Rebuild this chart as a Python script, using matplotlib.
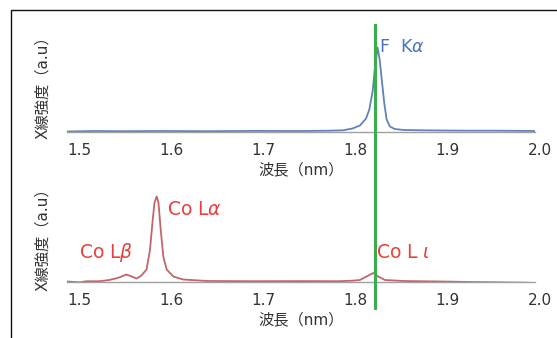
import matplotlib.pyplot as plt
import matplotlib.transforms as mtransforms
from matplotlib.patches import Rectangle

plt.rcParams['font.family'] = ['DejaVu Sans', 'Noto Sans CJK JP']
plt.rcParams['mathtext.fontset'] = 'dejavusans'

# F K-alpha spectrum (upper panel), wavelength in nm, intensity in a.u.
top_wl = [1.500, 1.530, 1.560, 1.600, 1.650, 1.700, 1.750, 1.780, 1.795, 1.805,
          1.813, 1.8195, 1.823, 1.8265, 1.829, 1.8318, 1.834, 1.8365, 1.839,
          1.8415, 1.845, 1.850, 1.860, 1.880, 1.900, 1.930, 1.960, 2.000]
top_int = [0, 0.5, 0.3, 0.5, 0.3, 0.6, 0.5, 0.8, 1.2, 3,
           6, 13, 22, 40, 64, 84, 72, 50, 28,
           12, 5, 2.5, 1.5, 1.2, 1.0, 0.8, 0.8, 0.5]

# Co L lines spectrum (lower panel)
bot_wl = [1.500, 1.514, 1.520, 1.535, 1.545, 1.552, 1.557, 1.5635, 1.569, 1.5745,
          1.5795, 1.585, 1.5887, 1.5916, 1.5935, 1.5958, 1.5977, 1.6001, 1.6029,
          1.6065, 1.6136, 1.624, 1.650, 1.700, 1.750, 1.790, 1.805, 1.813, 1.820,
          1.8272, 1.8325, 1.8397, 1.860, 1.900, 1.930, 1.960, 1.990, 2.000]
bot_int = [0, -0.8, 0.2, 0.3, 1.5, 3, 4.5, 7, 5, 3,
           6, 12, 32, 62, 79, 85, 79, 52, 25,
           12, 5, 2, 0.5, 0.3, 0.4, 0.3, 0.8, 1.5, 5,
           8.5, 5, 1.5, 0.5, 0, -0.5, -0.8, -1.2, -1.5]

ticks = [1.5, 1.6, 1.7, 1.8, 1.9, 2.0]
tick_labels = ['1.5', '1.6', '1.7', '1.8', '1.9', '2.0']
marker_wl = 1.829  # F K-alpha position

blue_line = '#6083bb'
blue_text = '#4a74c0'
red_line = '#c26668'
red_text = '#e8403c'

fig = plt.figure(figsize=(5.57, 3.38), dpi=100)
W, H = 557, 338

def px_axes(x0, x1, ytop, ybot):
    return fig.add_axes([x0 / W, 1 - ybot / H, (x1 - x0) / W, (ybot - ytop) / H])

ax1 = px_axes(67, 535, 40, 132)
ax2 = px_axes(67, 535, 190, 282)

for ax in (ax1, ax2):
    ax.set_xlim(1.5, 2.0)
    ax.set_ylim(-0.5, 91.5)
    for s in ('top', 'right', 'left'):
        ax.spines[s].set_visible(False)
    ax.spines['bottom'].set_color('#a0a0a0')
    ax.spines['bottom'].set_linewidth(1.0)
    ax.set_yticks([])
    ax.set_xticks(ticks)
    ax.set_xticklabels(tick_labels, ha='left')
    ax.tick_params(axis='x', length=0, pad=8, labelsize=11, labelcolor='#333333')
    # labels drift slightly left of their ticks towards the right end
    for i, lab in enumerate(ax.get_xticklabels()):
        lab.set_transform(lab.get_transform() +
                          mtransforms.ScaledTranslation(-i * 1.4 / 100, 0, fig.dpi_scale_trans))
    ax.set_xlabel('波長（nm）', fontsize=11, color='#333333', labelpad=3)
    ax.patch.set_visible(False)

ax1.plot(top_wl, top_int, color=blue_line, lw=1.3)
ax2.plot(bot_wl, bot_int, color=red_line, lw=1.3)

ax1.text(1.8335, 84, 'F  K$\\alpha$', color=blue_text, fontsize=12.5, va='center')
ax2.text(1.6065, 72, 'Co L$\\alpha$', color=red_text, fontsize=13.5, va='center')
ax2.text(1.5128, 29, 'Co L$\\beta$', color=red_text, fontsize=13.5, va='center')
ax2.text(1.8305, 29, 'Co L $\\iota$', color=red_text, fontsize=13.5, va='center')

for yc in (84, 236):
    fig.text(43 / W, 1 - yc / H, 'X線強度（a.u）', rotation=90, ha='center',
             va='center', fontsize=11, color='#333333')

# green marker line spanning both panels
trans = mtransforms.blended_transform_factory(ax1.transData, fig.transFigure)
fig.add_artist(plt.Line2D([marker_wl, marker_wl], [1 - 25 / H, 1 - 308 / H],
                          transform=trans, color='#3aae4c', lw=2.2))

# outer frame (top and left edges visible)
fig.add_artist(Rectangle((11 / W, -0.5), 1.2, 0.5 + 1 - 10 / H,
                         transform=fig.transFigure, fill=False,
                         edgecolor='#111111', lw=1.0))

fig.savefig('out.png', dpi=100)
